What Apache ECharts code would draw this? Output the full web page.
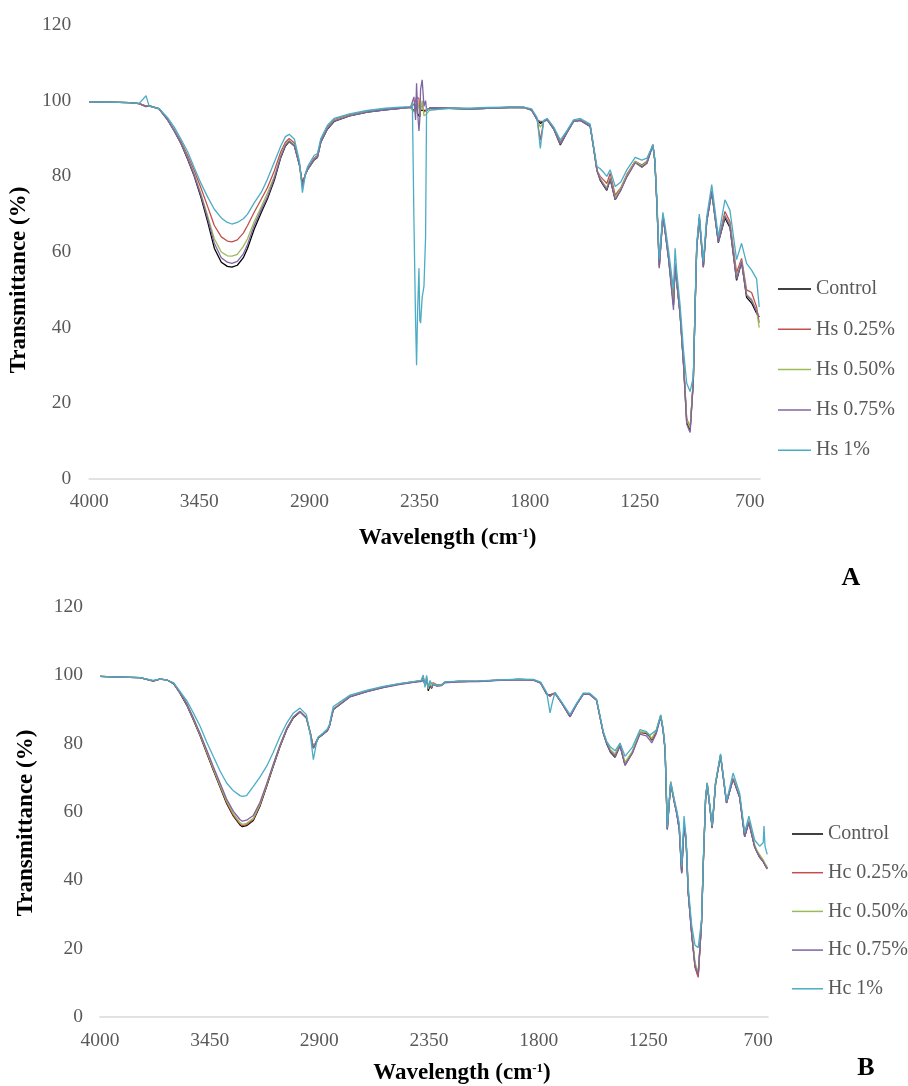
<!DOCTYPE html>
<html>
<head>
<meta charset="utf-8">
<title>FTIR spectra</title>
<script src="https://cdn.jsdelivr.net/npm/echarts@6/dist/echarts.min.js"></script>
<style>
  html, body { margin: 0; padding: 0; background: #fff; }
  #chart { width: 908px; height: 1086px; }
</style>
</head>
<body>
<div id="chart"></div>
<script>
// tick labels of the wavenumber axis
const X_TICKS = [4000, 3450, 2900, 2350, 1800, 1250, 700];

// ---- panel A (Hs) ----
const NAMES_A = ['Control', 'Hs 0.25%', 'Hs 0.50%', 'Hs 0.75%', 'Hs 1%'];
const X_A = [
  4000, 3900, 3800, 3750, 3716, 3700, 3650, 3608, 3575, 3541,
  3508, 3475, 3442, 3408, 3375, 3340, 3310, 3287, 3260, 3230,
  3209, 3176, 3140, 3110, 3075, 3043, 3020, 3001, 2975, 2950,
  2935, 2920, 2910, 2877, 2860, 2843, 2810, 2777, 2700, 2611,
  2520, 2445, 2395, 2386, 2378, 2370, 2365, 2360, 2353, 2349,
  2345, 2337, 2328, 2320, 2315, 2300, 2200, 2100, 2013, 1900,
  1830, 1790, 1763, 1747, 1730, 1713, 1680, 1647, 1615, 1581,
  1547, 1498, 1481, 1464, 1448, 1430, 1415, 1398, 1373, 1345,
  1315, 1273, 1240, 1215, 1185, 1175, 1165, 1153, 1135, 1124,
  1107, 1099, 1082, 1074, 1066, 1049, 1032, 1016, 999, 983,
  975, 966, 953, 933, 916, 891, 858, 825, 800, 767,
  742, 717, 692, 667, 654
];
const A_CONTROL = [
  99.7, 99.6, 99.5, 99.2, 98.4, 98.6, 97.8, 94.9, 92.0, 88.6,
  84.5, 80.0, 74.5, 68.0, 61.0, 57.3, 56.2, 56.0, 56.5, 58.5,
  61.0, 66.0, 70.5, 74.0, 79.0, 85.0, 88.0, 89.2, 88.0, 83.0,
  78.2, 80.5, 81.7, 84.3, 85.0, 89.0, 92.5, 94.5, 96.0, 97.0,
  97.6, 98.0, 98.2, 98.0, 97.3, 98.5, 99.3, 96.5, 96.0, 95.8,
  97.5, 97.8, 97.4, 97.0, 97.5, 98.0, 98.0, 97.8, 98.0, 98.2,
  98.2, 97.5, 95.0, 94.0, 94.5, 95.0, 92.5, 88.3, 91.5, 94.5,
  94.8, 93.2, 87.5, 81.5, 79.0, 77.5, 76.3, 79.2, 73.8, 76.5,
  80.0, 83.8, 82.5, 83.5, 88.3, 84.0, 72.9, 56.5, 69.5, 65.5,
  58.5, 58.0, 46.0, 56.0, 52.0, 43.5, 30.5, 15.0, 12.8, 26.0,
  43.5, 61.0, 69.0, 56.0, 68.0, 75.8, 62.5, 69.0, 66.5, 52.5,
  57.3, 48.0, 46.5, 43.8, 42.8
];
const A_025 = [
  99.7, 99.6, 99.5, 99.2, 98.6, 98.7, 97.9, 95.0, 92.3, 89.2,
  85.5, 81.5, 77.0, 72.0, 67.0, 64.0, 62.9, 62.7, 63.2, 65.0,
  67.0, 70.5, 74.0, 77.0, 81.5, 86.5, 89.0, 90.0, 88.8, 83.5,
  77.5, 80.8, 82.0, 84.8, 85.5, 89.5, 93.0, 95.0, 96.3, 97.2,
  97.8, 98.1, 98.3, 98.5, 99.0, 100.0, 101.0, 101.5, 100.5, 97.0,
  98.0, 99.0, 97.0, 96.5, 97.5, 98.0, 98.0, 97.9, 98.0, 98.3,
  98.2, 97.5, 95.0, 89.6, 94.5, 95.2, 92.8, 89.0, 91.8, 94.6,
  95.0, 93.5, 87.8, 81.5, 80.0, 79.0, 78.1, 80.8, 75.0, 77.0,
  80.5, 84.0, 83.0, 84.0, 88.3, 84.0, 73.0, 56.0, 69.8, 66.0,
  59.0, 58.5, 46.5, 57.0, 52.5, 44.0, 31.0, 16.0, 13.5, 26.0,
  43.8, 61.5, 69.2, 56.3, 68.5, 76.2, 63.0, 70.7, 68.0, 54.5,
  58.3, 50.0, 49.3, 45.5, 41.3
];
const A_050 = [
  99.7, 99.6, 99.5, 99.2, 98.5, 98.6, 97.8, 94.9, 92.1, 88.8,
  85.0, 80.5, 75.5, 69.5, 63.5, 60.0, 59.0, 58.9, 59.4, 61.5,
  63.5, 68.0, 72.0, 75.5, 80.0, 85.5, 88.5, 89.5, 88.3, 83.0,
  77.0, 80.6, 81.8, 84.5, 85.2, 89.3, 92.8, 94.8, 96.1, 97.1,
  97.7, 98.0, 98.2, 98.0, 97.0, 97.5, 99.0, 100.0, 98.0, 96.0,
  97.5, 100.0, 96.0, 95.5, 96.5, 97.5, 98.0, 97.8, 98.0, 98.2,
  98.2, 97.5, 95.0, 93.0, 94.5, 95.0, 92.6, 88.6, 91.6, 94.5,
  94.9, 93.3, 87.6, 81.5, 79.5, 78.0, 77.0, 79.8, 74.3, 76.8,
  80.2, 83.9, 82.8, 83.7, 88.3, 84.0, 72.9, 56.3, 69.6, 65.7,
  58.7, 58.2, 46.2, 57.0, 52.2, 43.7, 30.7, 15.5, 13.5, 26.0,
  43.6, 61.2, 69.1, 56.1, 68.2, 76.0, 62.7, 69.8, 67.2, 53.2,
  57.8, 48.8, 47.5, 44.5, 40.0
];
const A_075 = [
  99.7, 99.6, 99.5, 99.2, 98.5, 98.6, 97.8, 94.9, 92.0, 88.7,
  84.7, 80.2, 75.0, 68.8, 62.3, 58.5, 57.3, 57.0, 57.5, 59.5,
  62.0, 67.0, 71.2, 74.5, 79.5, 85.2, 88.2, 89.3, 88.1, 83.0,
  77.5, 80.5, 81.7, 84.4, 85.1, 89.2, 92.6, 94.6, 96.0, 97.0,
  97.6, 98.0, 98.2, 98.0, 101.0, 94.9, 104.6, 97.0, 92.0, 94.9,
  103.0, 105.5, 98.5, 100.0, 97.5, 98.0, 98.0, 97.8, 98.0, 98.2,
  98.2, 97.5, 95.0, 94.5, 94.5, 95.0, 92.5, 88.5, 91.5, 94.5,
  94.8, 93.2, 87.5, 81.5, 79.2, 77.6, 76.5, 79.4, 73.8, 76.3,
  79.8, 83.6, 82.4, 83.4, 88.3, 84.0, 72.7, 55.7, 69.4, 65.4,
  58.4, 57.9, 44.7, 56.5, 52.6, 43.5, 30.3, 14.5, 12.3, 25.5,
  43.3, 61.0, 69.0, 56.0, 68.0, 75.9, 62.6, 69.5, 66.8, 52.8,
  57.5, 48.5, 47.2, 44.3, 42.8
];
const A_100 = [
  99.7, 99.6, 99.5, 99.3, 101.3, 98.5, 97.9, 95.5, 93.0, 89.8,
  86.5, 82.3, 78.2, 74.5, 71.3, 69.0, 67.8, 67.4, 67.8, 68.8,
  70.0, 73.0, 75.8, 79.2, 83.8, 88.0, 90.5, 91.1, 89.8, 84.0,
  75.7, 80.5, 82.5, 85.5, 86.0, 90.0, 93.5, 95.3, 96.5, 97.4,
  98.0, 98.3, 98.4, 99.3, 68.0, 42.0, 30.1, 44.0, 55.7, 42.0,
  41.2, 48.0, 51.0, 64.0, 98.0, 97.5, 98.0, 98.0, 98.2, 98.3,
  98.3, 97.8, 95.5, 87.4, 94.8, 95.3, 93.0, 89.6, 92.0, 94.9,
  95.3, 93.8, 88.0, 82.6, 82.0, 81.0, 80.0, 81.7, 77.3, 78.5,
  81.7, 85.0, 84.3, 84.8, 88.3, 84.5, 74.0, 58.0, 70.5, 67.0,
  60.5, 60.0, 50.0, 61.0, 55.0, 46.0, 34.0, 25.3, 23.1, 27.0,
  44.0, 62.0, 70.0, 57.5, 69.3, 77.8, 64.0, 73.8, 71.0, 58.0,
  62.3, 57.0, 55.2, 52.9, 45.5
];

// ---- panel B (Hc) ----
const NAMES_B = ['Control', 'Hc 0.25%', 'Hc 0.50%', 'Hc 0.75%', 'Hc 1%'];
const X_B = [
  4000, 3900, 3800, 3733, 3700, 3666, 3630, 3599, 3565, 3532,
  3498, 3465, 3432, 3398, 3365, 3331, 3298, 3286, 3265, 3231,
  3198, 3164, 3131, 3098, 3064, 3030, 2997, 2965, 2945, 2930,
  2915, 2905, 2880, 2860, 2850, 2830, 2746, 2660, 2579, 2500,
  2412, 2390, 2379, 2370, 2362, 2354, 2345, 2337, 2329, 2310,
  2287, 2270, 2200, 2100, 1994, 1900, 1827, 1790, 1760, 1743,
  1730, 1718, 1680, 1643, 1610, 1576, 1545, 1510, 1476, 1459,
  1440, 1417, 1392, 1367, 1330, 1292, 1260, 1242, 1233, 1210,
  1188, 1176, 1166, 1155, 1138, 1120, 1108, 1095, 1083, 1071,
  1061, 1050, 1033, 1016, 1000, 983, 975, 963, 955, 930,
  913, 888, 858, 825, 792, 767, 746, 717, 707, 692,
  674, 670, 665, 654
];
const B_CONTROL = [
  99.7, 99.5, 99.3, 98.3, 98.9, 98.7, 97.5, 94.8, 91.3, 87.0,
  82.3, 77.3, 72.3, 67.3, 62.5, 58.8, 56.2, 55.7, 56.0, 57.5,
  61.7, 67.5, 73.4, 79.0, 84.1, 87.6, 89.3, 87.5, 83.0, 78.7,
  80.5, 81.7, 82.8, 83.8, 85.0, 90.0, 93.8, 95.3, 96.5, 97.4,
  98.2, 98.3, 98.5, 97.5, 99.0, 95.5, 97.0, 96.2, 97.5, 97.0,
  97.2, 98.0, 98.2, 98.3, 98.6, 98.8, 98.7, 97.8, 94.5, 94.2,
  94.6, 94.8, 91.5, 88.0, 91.5, 94.6, 94.5, 92.8, 83.1, 80.0,
  77.5, 76.0, 79.5, 73.8, 77.5, 83.3, 83.0, 82.0, 81.0, 83.5,
  88.0, 84.0, 78.2, 55.0, 68.5, 63.0, 59.8, 55.0, 42.2, 56.0,
  52.0, 36.4, 24.7, 15.0, 12.0, 28.0, 44.0, 63.7, 68.3, 55.4,
  68.3, 76.5, 62.7, 69.8, 64.3, 52.8, 57.0, 49.8, 48.5, 46.8,
  45.5, 45.0, 44.5, 43.5
];
const B_025 = [
  99.7, 99.5, 99.3, 98.4, 98.9, 98.7, 97.6, 94.9, 91.5, 87.2,
  82.5, 77.5, 72.5, 67.5, 62.8, 59.0, 56.5, 56.0, 56.3, 57.8,
  62.0, 67.8, 73.6, 79.2, 84.2, 87.7, 89.4, 87.6, 83.0, 78.8,
  80.6, 81.8, 82.9, 83.9, 85.1, 90.1, 93.9, 95.4, 96.6, 97.5,
  98.2, 98.3, 99.5, 97.5, 98.5, 96.5, 97.5, 97.0, 97.8, 97.2,
  97.3, 98.0, 98.2, 98.3, 98.6, 98.8, 98.7, 97.8, 94.6, 93.8,
  94.6, 94.8, 91.5, 87.8, 91.5, 94.6, 94.5, 92.8, 83.2, 80.2,
  78.0, 76.5, 79.8, 73.8, 77.3, 83.3, 83.2, 82.2, 81.2, 83.6,
  88.2, 84.0, 78.2, 55.0, 68.6, 63.2, 59.8, 55.0, 42.5, 56.0,
  52.0, 36.4, 24.5, 14.5, 11.6, 27.8, 44.0, 63.8, 68.4, 55.5,
  68.4, 76.6, 62.7, 69.8, 64.4, 52.9, 57.2, 50.0, 48.6, 47.0,
  45.6, 45.0, 44.5, 43.5
];
const B_050 = [
  99.7, 99.5, 99.3, 98.4, 98.9, 98.7, 97.6, 95.0, 91.6, 87.4,
  82.7, 77.8, 72.8, 67.8, 63.2, 59.5, 56.9, 56.4, 56.7, 58.2,
  62.3, 68.0, 73.8, 79.4, 84.4, 87.9, 89.5, 87.7, 83.2, 79.0,
  80.8, 82.0, 83.0, 84.0, 85.2, 90.2, 94.0, 95.5, 96.6, 97.5,
  98.2, 98.3, 98.8, 97.0, 99.5, 96.0, 97.8, 96.5, 97.6, 97.0,
  97.2, 98.0, 98.2, 98.3, 98.6, 98.8, 98.7, 97.8, 94.6, 94.0,
  94.6, 94.8, 91.6, 88.2, 91.6, 94.7, 94.6, 92.9, 83.4, 80.4,
  78.2, 77.0, 80.0, 74.5, 77.8, 83.5, 83.3, 82.3, 81.5, 84.0,
  88.5, 84.5, 79.0, 56.0, 69.0, 63.8, 60.5, 56.0, 43.5, 56.8,
  52.8, 37.2, 25.5, 16.0, 13.0, 28.5, 44.5, 64.0, 68.6, 56.0,
  68.8, 76.8, 63.0, 70.0, 64.8, 53.5, 57.6, 50.4, 49.0, 47.5,
  46.0, 45.5, 45.0, 44.0
];
const B_075 = [
  99.7, 99.5, 99.3, 98.4, 98.9, 98.7, 97.6, 95.0, 91.7, 87.6,
  83.0, 78.2, 73.3, 68.5, 63.8, 60.2, 57.8, 57.3, 57.6, 59.0,
  62.8, 68.3, 74.0, 79.5, 84.4, 87.8, 89.4, 87.6, 83.0, 78.8,
  80.6, 81.8, 82.8, 83.8, 85.0, 90.0, 93.7, 95.2, 96.4, 97.3,
  98.1, 98.2, 98.6, 97.6, 98.6, 96.8, 97.2, 96.4, 97.3, 96.8,
  97.0, 97.8, 98.1, 98.2, 98.5, 98.7, 98.6, 97.7, 94.5, 94.0,
  94.5, 94.7, 91.4, 87.9, 91.4, 94.5, 94.4, 92.7, 83.0, 80.0,
  77.6, 76.2, 79.4, 73.6, 77.2, 82.8, 82.3, 81.0, 80.2, 83.0,
  88.0, 83.8, 78.0, 54.8, 68.3, 62.8, 59.5, 54.8, 42.0, 55.8,
  51.8, 36.2, 24.4, 14.8, 12.5, 28.0, 44.0, 63.6, 68.2, 55.3,
  68.2, 76.4, 62.6, 69.6, 64.2, 52.7, 57.0, 49.8, 48.5, 46.8,
  45.5, 45.0, 44.4, 43.3
];
const B_100 = [
  99.7, 99.5, 99.3, 98.5, 98.9, 98.7, 97.8, 95.3, 92.6, 89.0,
  85.1, 80.5, 76.3, 72.0, 68.5, 66.2, 64.8, 64.6, 64.8, 67.5,
  70.2, 73.4, 77.5, 82.0, 86.0, 89.0, 90.4, 88.5, 82.5, 75.3,
  80.0, 81.9, 83.2, 84.3, 85.5, 90.9, 94.2, 95.7, 96.8, 97.6,
  98.3, 98.5, 100.1, 96.5, 100.0, 96.5, 98.5, 97.5, 97.7, 97.0,
  97.2, 98.1, 98.3, 98.4, 98.7, 98.9, 98.8, 98.0, 95.0, 89.0,
  92.5, 95.0, 91.8, 88.5, 91.8, 94.8, 94.8, 93.0, 83.5, 80.7,
  79.0, 77.9, 80.2, 76.3, 79.0, 84.1, 83.5, 82.5, 82.0, 84.0,
  88.3, 84.3, 78.5, 55.5, 68.6, 63.5, 60.5, 56.5, 44.0, 58.8,
  52.5, 38.0, 27.0, 21.0, 20.3, 28.6, 45.0, 64.0, 68.5, 56.0,
  68.5, 77.0, 63.2, 71.4, 65.5, 54.0, 58.8, 51.8, 51.5, 50.0,
  51.0, 55.9, 50.0, 47.6
];

const COLORS = ['#000000', '#C0504D', '#9BBB59', '#8064A2', '#4BACC6'];
const FONT = '"Liberation Serif", "Times New Roman", serif';

function pairs(xs, ys) {
  return xs.map((x, i) => [x, ys[i]]);
}

function makeSeries(names, xs, rows, axisIndex) {
  return names.map((name, i) => ({
    name: name,
    type: 'line',
    xAxisIndex: axisIndex,
    yAxisIndex: axisIndex,
    data: pairs(xs, rows[i]),
    symbol: 'none',
    showSymbol: false,
    lineStyle: { color: COLORS[i], width: 1.3 },
    itemStyle: { color: COLORS[i] },
    z: 2 + i
  }));
}

function xAxisOf(gridIndex, nameGap, shift, labelMargin) {
  return {
    gridIndex: gridIndex,
    type: 'value',
    inverse: true,
    min: 650,
    max: 4000,
    axisLine: { lineStyle: { color: '#d9d9d9', width: 1.5 } },
    axisTick: { show: false },
    splitLine: { show: false },
    axisLabel: {
      customValues: X_TICKS,
      formatter: (v) => String(v),
      margin: labelMargin,
      color: '#595959',
      fontFamily: FONT,
      fontSize: 19.5
    },
    name: '{b|Wavelength (cm}{s|-1}{b|)}',
    nameLocation: 'middle',
    nameGap: nameGap,
    nameTextStyle: {
      padding: [0, 0, 0, shift],
      rich: {
        b: { fontFamily: FONT, fontWeight: 'bold', fontSize: 23, color: '#000' },
        s: { fontFamily: FONT, fontWeight: 'bold', fontSize: 13, color: '#000', padding: [0, 0, 10, 0] }
      }
    }
  };
}

function yAxisOf(gridIndex, nameGap, shift, labelMargin) {
  return {
    gridIndex: gridIndex,
    type: 'value',
    min: 0,
    max: 120,
    interval: 20,
    axisLine: { show: false },
    axisTick: { show: false },
    splitLine: { show: false },
    axisLabel: {
      margin: labelMargin,
      color: '#595959',
      fontFamily: FONT,
      fontSize: 19.5
    },
    name: 'Transmittance (%)',
    nameLocation: 'middle',
    nameGap: nameGap,
    nameTextStyle: {
      fontFamily: FONT,
      fontWeight: 'bold',
      fontSize: 23,
      color: '#000',
      padding: [0, shift, 0, 0]
    }
  };
}

function legendOf(names, left, top, width, gap) {
  return {
    data: names,
    orient: 'vertical',
    left: left,
    top: top,
    icon: 'rect',
    itemWidth: width,
    itemHeight: 1.5,
    itemGap: gap,
    selectedMode: false,
    textStyle: { fontFamily: FONT, fontSize: 20, lineHeight: 20, color: '#595959' }
  };
}

const chart = echarts.init(document.getElementById('chart'), null, { renderer: 'canvas' });

chart.setOption({
  animation: false,
  backgroundColor: '#ffffff',
  grid: [
    { left: 88, top: 25, width: 672, height: 454 },
    { left: 100, top: 607, width: 668, height: 411 }
  ],
  xAxis: [xAxisOf(0, 48, 46, 13), xAxisOf(1, 45, 56, 14)],
  yAxis: [yAxisOf(0, 55, 56, 18), yAxisOf(1, 62, 22, 17)],
  legend: [
    legendOf(NAMES_A, 773, 274, 33, 20.3),
    legendOf(NAMES_B, 787, 819, 31, 18.7)
  ],
  graphic: [
    { type: 'text', x: 851, y: 578, style: { text: 'A', font: 'bold 26px ' + FONT, fill: '#000', align: 'center', verticalAlign: 'middle' } },
    { type: 'text', x: 866, y: 1068, style: { text: 'B', font: 'bold 26px ' + FONT, fill: '#000', align: 'center', verticalAlign: 'middle' } }
  ],
  series: [].concat(
    makeSeries(NAMES_A, X_A, [A_CONTROL, A_025, A_050, A_075, A_100], 0),
    makeSeries(NAMES_B, X_B, [B_CONTROL, B_025, B_050, B_075, B_100], 1)
  )
});
</script>
</body>
</html>
